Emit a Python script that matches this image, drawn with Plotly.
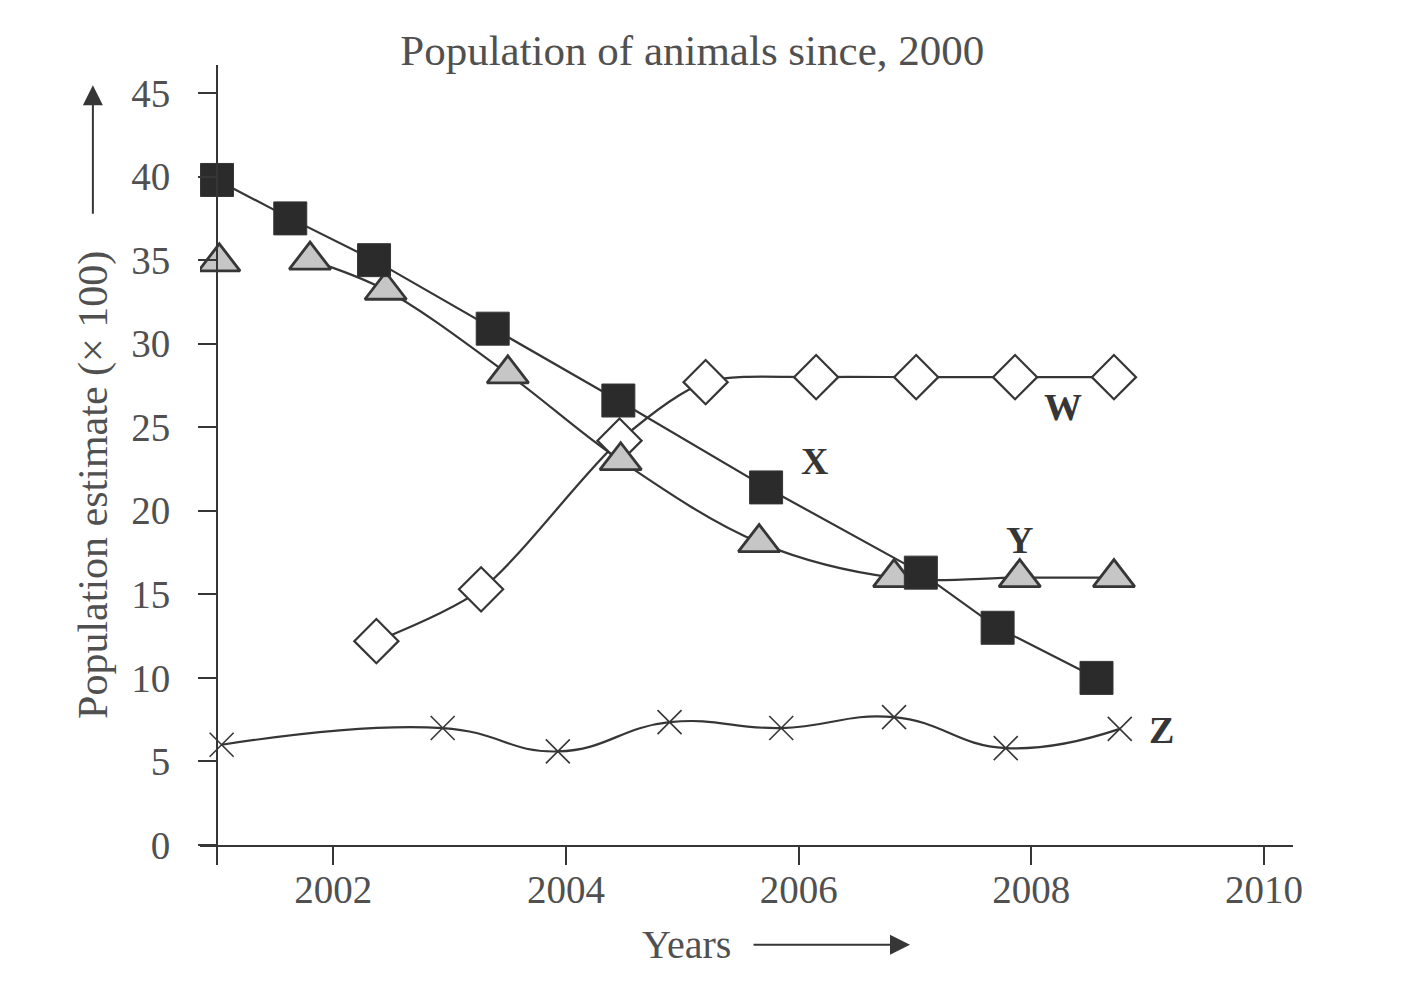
import plotly.graph_objects as go

# data (years are fractional, values x 100)
x_years = [2001.0, 2001.63, 2002.35, 2003.37, 2004.45, 2005.72, 2007.05, 2007.71, 2008.56]
x_vals = [39.8, 37.5, 35.0, 30.9, 26.6, 21.4, 16.3, 13.0, 10.0]

y_years = [2001.02, 2001.8, 2002.45, 2003.5, 2004.47, 2005.66, 2006.82, 2007.9, 2008.71]
y_vals = [34.9, 35.0, 33.2, 28.2, 23.0, 18.1, 16.0, 16.0, 16.0]

w_years = [2002.37, 2003.27, 2004.46, 2005.2, 2006.15, 2007.01, 2007.86, 2008.71]
w_vals = [12.2, 15.3, 24.2, 27.7, 28.0, 28.0, 28.0, 28.0]

z_years = [2001.04, 2002.94, 2003.93, 2004.89, 2005.85, 2006.82, 2007.78, 2008.76]
z_vals = [6.0, 7.0, 5.6, 7.35, 7.0, 7.65, 5.8, 6.95]

tick_years = [2001, 2002, 2004, 2006, 2008, 2010]
tick_text = ['', '2002', '2004', '2006', '2008', '2010']

FONT = 'Liberation Serif'
INK = '#363636'
TXT = '#505050'

fig = go.Figure()

fig.add_trace(go.Scatter(
    x=z_years, y=z_vals, mode='lines+markers',
    line=dict(color=INK, width=2.2, shape='spline', smoothing=1.3),
    marker=dict(symbol='x-thin', size=24, line=dict(color=INK, width=1.6)),
    name='Z'
))
fig.add_trace(go.Scatter(
    x=w_years, y=w_vals, mode='lines+markers',
    line=dict(color=INK, width=2.2, shape='spline', smoothing=0.8),
    marker=dict(symbol='diamond', size=34, color='white', line=dict(color=INK, width=2.2)),
    name='W'
))
# first Y point stands alone, the line starts at the second one
tri = dict(symbol='triangle-up', size=36, color='#c6c6c6', line=dict(color=INK, width=2.8))
fig.add_trace(go.Scatter(x=y_years[:1], y=y_vals[:1], mode='markers', marker=tri, name='Y'))
fig.add_trace(go.Scatter(
    x=y_years[1:], y=y_vals[1:], mode='lines+markers',
    line=dict(color=INK, width=2.2, shape='spline', smoothing=1.0),
    marker=tri, name='Y'
))
fig.add_trace(go.Scatter(
    x=x_years, y=x_vals, mode='lines+markers',
    line=dict(color=INK, width=2.2),
    marker=dict(symbol='square', size=33, color='#2b2b2b', line=dict(color=INK, width=1)),
    name='X'
))

# series labels
for txt, xx, yy in [('W', 2008.27, 26.2), ('X', 2006.14, 23.0), ('Y', 2007.9, 18.25), ('Z', 2009.12, 6.9)]:
    fig.add_annotation(x=xx, y=yy, text=f'<b>{txt}</b>', showarrow=False,
                       xanchor='center', yanchor='middle',
                       font=dict(family=FONT, size=38, color=INK))

# y-axis title and arrow
fig.add_annotation(xref='paper', yref='paper', x=-0.098, y=0.4615, xanchor='center', yanchor='middle',
                   text='Population estimate (× 100)', textangle=-90, showarrow=False,
                   font=dict(family=FONT, size=42, color=TXT))
fig.add_annotation(xref='paper', yref='paper', x=-0.098, y=0.974, ax=0, ay=130,
                   text='', showarrow=True,
                   arrowhead=2, arrowsize=2, arrowwidth=2, arrowcolor=INK)

# x-axis title and arrow
fig.add_annotation(xref='paper', yref='paper', x=0.4447, y=-0.128, xanchor='center', yanchor='middle',
                   text='Years', showarrow=False,
                   font=dict(family=FONT, size=40, color=TXT))
fig.add_annotation(xref='paper', yref='paper', x=0.6496, y=-0.128, ax=-158, ay=0,
                   text='', showarrow=True,
                   arrowhead=2, arrowsize=2, arrowwidth=2, arrowcolor=INK)

axis_style = dict(showgrid=False, zeroline=False, showline=True, linecolor=INK, linewidth=2,
                  ticks='outside', ticklen=18, tickwidth=2, tickcolor=INK,
                  tickfont=dict(family=FONT, size=39, color=TXT))

fig.update_layout(
    title=dict(text='Population of animals since, 2000', x=0.487, xanchor='center', y=0.957, yanchor='middle',
               font=dict(family=FONT, size=43, color=TXT)),
    width=1405, height=985,
    margin=dict(l=192, r=120, t=57, b=148),
    plot_bgcolor='white', paper_bgcolor='white',
    showlegend=False,
    xaxis=dict(range=[2000.854, 2010.249], tickvals=tick_years, ticktext=tick_text,
               ticklabelstandoff=-9, **axis_style),
    yaxis=dict(range=[0, 46.68], tickvals=list(range(0, 50, 5)),
               anchor='free', position=0.01555, ticklabelstandoff=20, **axis_style),
)

fig.write_html("out.html")
